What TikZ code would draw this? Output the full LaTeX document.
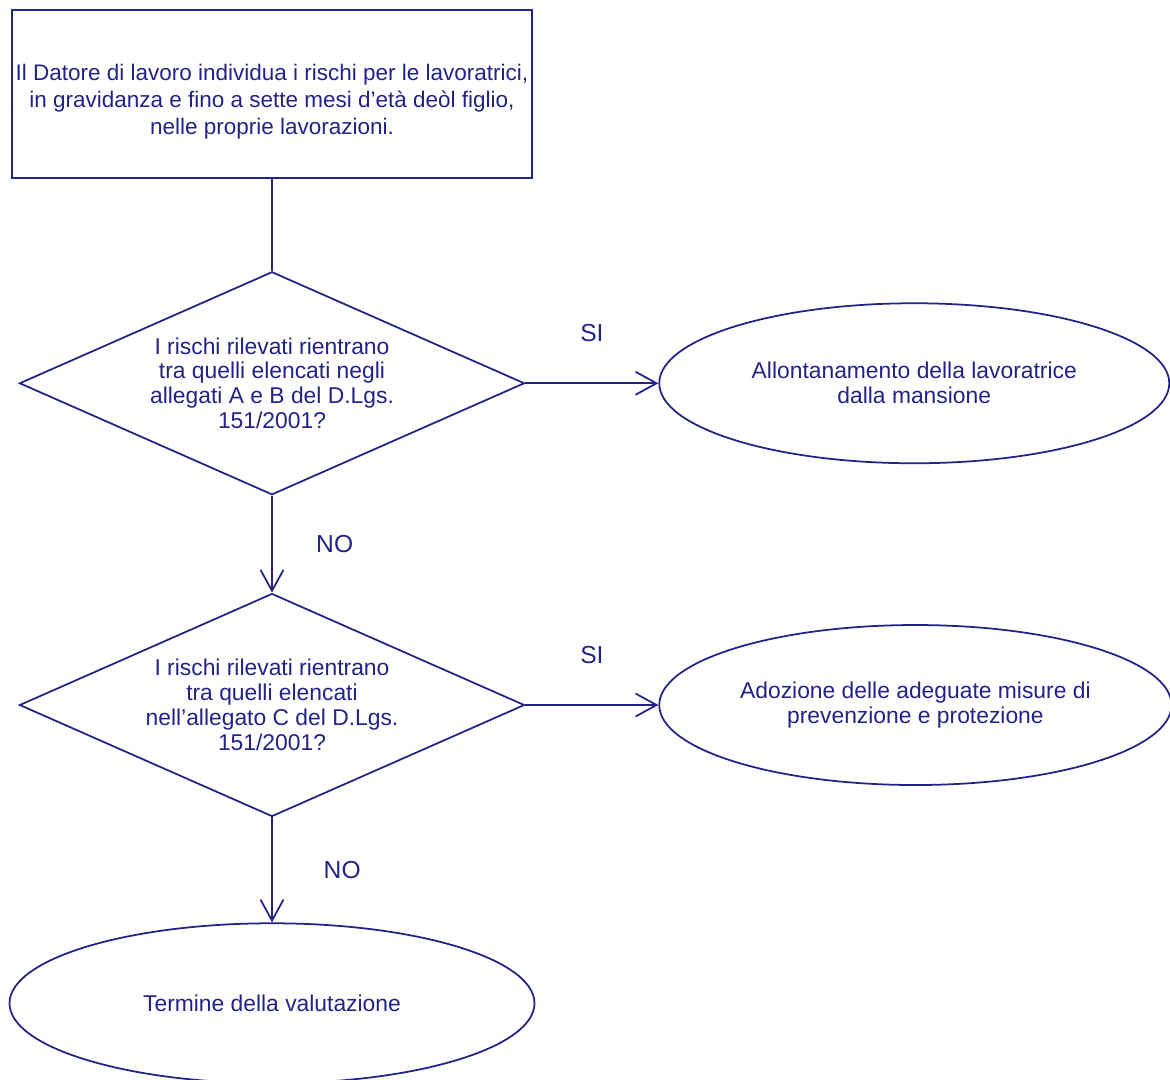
\documentclass[tikz,border=0pt]{standalone}
\usepackage{fontspec}
\setmainfont{Liberation Sans}
\usetikzlibrary{arrows.meta, shapes.geometric, positioning}

\definecolor{inkblue}{RGB}{34,34,135}

\begin{document}
\begin{tikzpicture}
            [->, >={Straight Barb[length=0.42cm,width=0.46cm]}, line width=1pt, draw=inkblue, node distance=1.9cm,
            font=\fontsize{13}{14.2}\selectfont, text=inkblue,
            startbox/.style={rectangle, draw=inkblue, align=center, inner xsep=0pt, minimum width=10.4cm, minimum height=3.36cm,
                font=\fontsize{12.8}{15.2}\selectfont},
            question/.style={diamond, aspect=2.26, draw=inkblue, align=center, inner sep=0pt, minimum width=10.1cm, minimum height=4.46cm},
            outcome/.style={ellipse, draw=inkblue, align=center, minimum width=10.2cm, minimum height=3.2cm},
            answer/.style={font=\fontsize{14}{16}\selectfont}]
            \useasboundingbox (0,0) rectangle (23.4,-21.58);
            \node[startbox]     (start) at (5.44,-1.88)
            {\rule{0pt}{18pt}Il Datore di lavoro individua i rischi per le lavoratrici, \\
                in gravidanza e fino a sette mesi d'età deòl figlio, \\
                nelle proprie lavorazioni.};
            \node[question]     (allAB) [below=1.84cm of start]
            {I rischi rilevati rientrano \\
                tra quelli elencati negli \\
                allegati A e B del D.Lgs. \\
                151/2001?};
            \node[question]     (allC) [below=1.94cm of allAB]
            {I rischi rilevati rientrano \\
                tra quelli elencati \\
                nell'allegato C del D.Lgs. \\
                151/2001?};
            \node[outcome]      (allont) [right=2.66cm of allAB]
            {Allontanamento della lavoratrice \\ dalla mansione};
            \node[outcome]      (misure) [right=2.66cm of allC]
            {Adozione delle adeguate misure di \\ prevenzione e protezione};
            \node[outcome, minimum width=10.5cm] (termine) [below=2.1cm of allC]
            {Termine della valutazione};

            \draw[-] (start) -- (allAB);
            \draw (allAB) -- node[answer, above=0.7cm] (siAB) {SI} (allont);
            \draw (allAB) -- node[answer, right=0.75cm] (noAB) {NO} (allC);
            \draw (allC) -- node[answer, above=0.7cm] (siC) {SI} (misure);
            \draw (allC) -- node[answer, right=0.9cm] (noC) {NO} (termine);
        \end{tikzpicture}
\end{document}
